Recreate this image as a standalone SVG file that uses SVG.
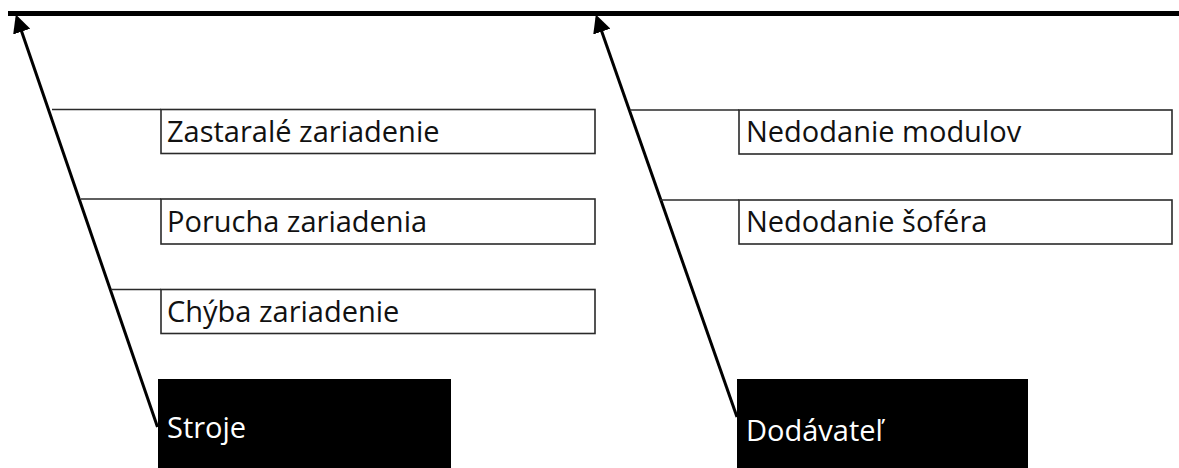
<svg xmlns="http://www.w3.org/2000/svg" width="1179" height="468" viewBox="0 0 1179 468">
<style>
.box{fill:#fff;stroke:#2a2a2a;stroke-width:1.6}
.cat{fill:#000}
.lbl{font-family:"Open Sans","Noto Sans",sans-serif;font-size:29px;fill:#111}
.cl{font-family:"Open Sans","Noto Sans",sans-serif;font-size:29px;fill:#fff}
.br{stroke:#2a2a2a;stroke-width:1.6;fill:none}
.main{stroke:#000;stroke-width:3;fill:none}
</style>
<defs>
<marker id="ah" viewBox="0 0 10 10" refX="8" refY="5" markerWidth="6" markerHeight="6" orient="auto" markerUnits="strokeWidth">
<path d="M0,0 L10,5 L0,10 z" fill="#000"/>
</marker>
</defs>
<rect width="1179" height="468" fill="#fff"/>
<line x1="8" y1="13.5" x2="1179" y2="13.5" stroke="#000" stroke-width="5"/>
<g id="connectors">
<line class="main" x1="157.5" y1="427" x2="17" y2="18" marker-end="url(#ah)"/>
<line class="main" x1="737" y1="417" x2="597" y2="18" marker-end="url(#ah)"/>
<line class="br" x1="52" y1="109.5" x2="161" y2="109.5"/>
<line class="br" x1="81" y1="199" x2="161" y2="199"/>
<line class="br" x1="111" y1="289.5" x2="161" y2="289.5"/>
<line class="br" x1="630" y1="110" x2="739" y2="110"/>
<line class="br" x1="660" y1="200" x2="739" y2="200"/>
</g>
<g id="n1"><rect class="box" x="161" y="109.5" width="434" height="44"/><text class="lbl" x="167" y="142">Zastaralé zariadenie</text></g>
<g id="n2"><rect class="box" x="161" y="199" width="434" height="45"/><text class="lbl" x="167" y="232">Porucha zariadenia</text></g>
<g id="n3"><rect class="box" x="161" y="289.5" width="434" height="44"/><text class="lbl" x="167" y="322">Chýba zariadenie</text></g>
<g id="n4"><rect class="box" x="739" y="110" width="433" height="44"/><text class="lbl" x="746" y="142">Nedodanie modulov</text></g>
<g id="n5"><rect class="box" x="739" y="200" width="433" height="44"/><text class="lbl" x="746" y="232">Nedodanie šoféra</text></g>
<g id="stroje"><rect class="cat" x="158" y="379" width="293" height="89"/><text class="cl" x="167" y="438">Stroje</text></g>
<g id="dodavatel"><rect class="cat" x="737" y="379" width="291" height="89"/><text class="cl" x="746" y="441">Dodávateľ</text></g>
</svg>
